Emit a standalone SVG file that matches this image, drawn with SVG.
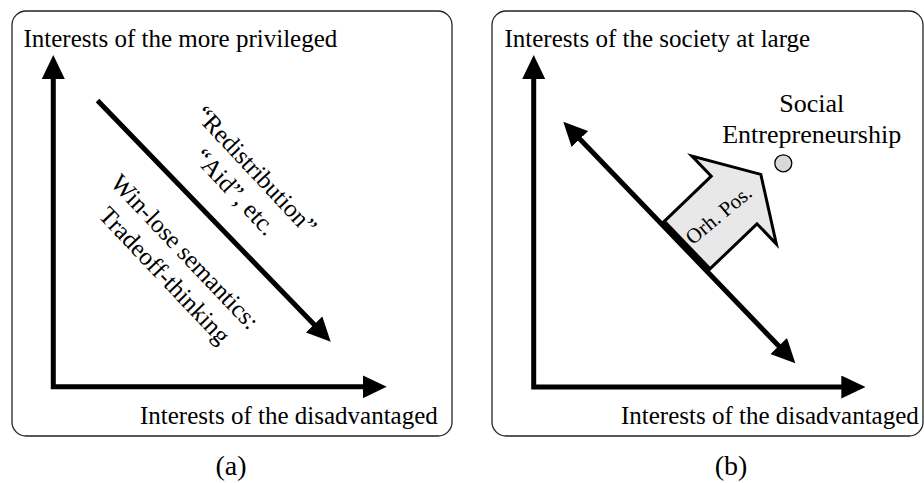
<svg xmlns="http://www.w3.org/2000/svg" width="924" height="483" viewBox="0 0 924 483">
<style>
text{font-family:"Liberation Serif","Times New Roman",serif;fill:#000;font-size:25px}
.frame{fill:#fff;stroke:#222;stroke-width:1.3}
.ax{fill:none;stroke:#000;stroke-width:5;stroke-linejoin:miter}
.blk{fill:#e8e8e8;stroke:#000;stroke-width:3;stroke-linejoin:miter}
.mid{text-anchor:middle}
</style>
<defs>
<marker id="ah" markerUnits="userSpaceOnUse" markerWidth="24" markerHeight="23" refX="14" refY="11.5" orient="auto-start-reverse" viewBox="0 0 24 23">
<path d="M0,0 L24,11.5 L0,23 Z" fill="#000"/>
</marker>
</defs>
<rect width="924" height="483" fill="#fff"/>
<g id="panel-a">
<rect class="frame" x="12" y="11" width="440" height="425" rx="14"/>
<text x="23.5" y="47">Interests of the more privileged</text>
<text x="140" y="424.3">Interests of the disadvantaged</text>
<text class="mid" x="231" y="475" style="font-size:28px">(a)</text>
</g>
<g id="panel-b">
<rect class="frame" x="492" y="11" width="431" height="425" rx="14"/>
<text x="504.5" y="47">Interests of the society at large</text>
<text x="621" y="424.3">Interests of the disadvantaged</text>
<text class="mid" x="731" y="475" style="font-size:28px">(b)</text>
</g>
<g id="connectors">
<path class="ax" d="M53.3,65 L53.3,386.8 L376.7,386.8" marker-start="url(#ah)" marker-end="url(#ah)"/>
<path class="ax" d="M97.5,100.5 L323.75,334.5" marker-end="url(#ah)"/>
<path class="ax" d="M533.7,65 L533.7,387 L855.3,387" marker-start="url(#ah)" marker-end="url(#ah)"/>
<path class="ax" d="M570.2,128.9 L788.4,356.1" marker-start="url(#ah)" marker-end="url(#ah)"/>
</g>
<g id="label-redistribution" transform="translate(250,176) rotate(47)">
<text class="mid" x="0" y="0">“Redistribution”</text>
<text class="mid" x="1.6" y="30">“Aid”, etc.</text>
</g>
<g id="label-winlose" transform="translate(179,257.5) rotate(46.5)">
<text class="mid" x="0" y="0">Win-lose semantics:</text>
<text class="mid" x="3" y="31">Tradeoff-thinking</text>
</g>
<g id="orh-pos" transform="translate(685.8,246.4) rotate(-43.83)">
<polygon class="blk" points="0,-33 67,-33 67,-61 104,0 67,61 67,33 0,33"/>
<line x1="0" y1="-34" x2="0" y2="34" stroke="#000" stroke-width="7"/>
<text class="mid" x="0" y="0" transform="translate(45,7) rotate(4)" style="font-size:21px">Orh. Pos.</text>
</g>
<g id="social-entrepreneurship">
<text class="mid" x="811.7" y="111.7" style="font-size:26px">Social</text>
<text class="mid" x="811.7" y="143.3" style="font-size:26px">Entrepreneurship</text>
<circle cx="783.3" cy="163.3" r="8.5" fill="#d9d9d9" stroke="#000" stroke-width="1.3"/>
</g>
</svg>
